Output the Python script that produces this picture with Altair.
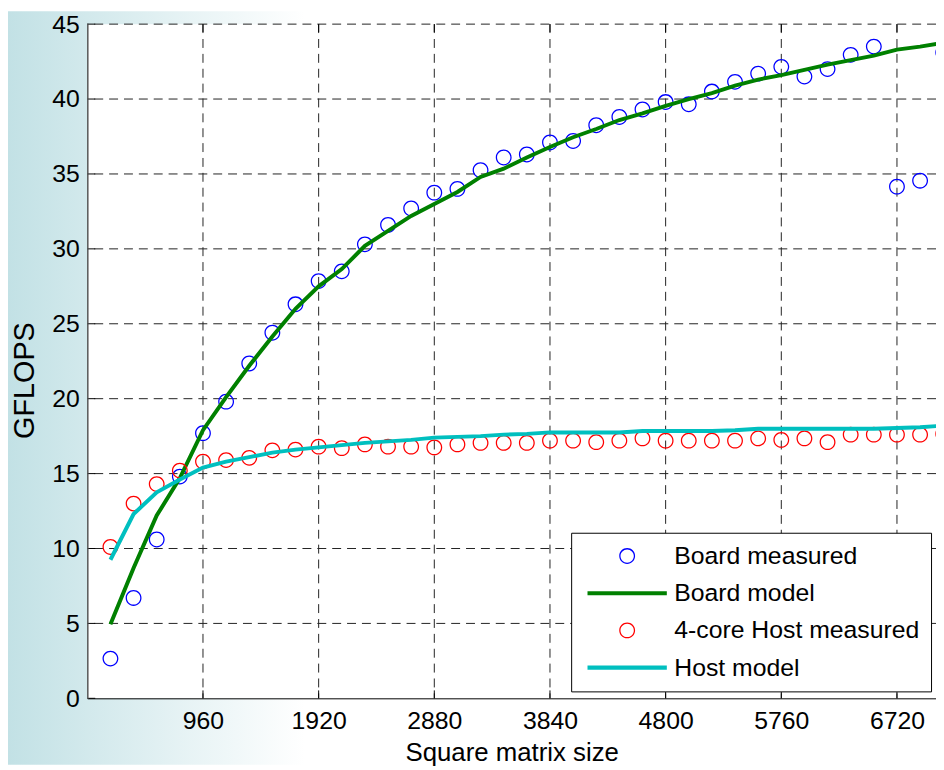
import altair as alt
import pandas as pd

# ---------------- data ----------------
sizes = [192, 384, 576, 768, 960, 1152, 1344, 1536, 1728, 1920, 2112, 2304,
         2496, 2688, 2880, 3072, 3264, 3456, 3648, 3840, 4032, 4224, 4416, 4608,
         4800, 4992, 5184, 5376, 5568, 5760, 5952, 6144, 6336, 6528, 6720, 6912, 7104]

board_measured = [2.65, 6.7, 10.6, 14.8, 17.7, 19.8, 22.35, 24.4, 26.3, 27.85, 28.5, 30.3,
                  31.6, 32.7, 33.75, 34.0, 35.25, 36.1, 36.3, 37.1, 37.2, 38.25, 38.8, 39.3,
                  39.8, 39.65, 40.5, 41.15, 41.7, 42.15, 41.5, 42.0, 42.95, 43.5, 34.15, 34.55, 43.1]

board_model = [4.95, 8.7, 12.2, 14.7, 17.9, 20.1, 22.2, 24.15, 26.0, 27.5, 28.65, 30.2,
               31.2, 32.2, 33.0, 33.8, 34.8, 35.35, 36.1, 36.8, 37.45, 38.0, 38.6, 39.05,
               39.55, 40.0, 40.4, 40.9, 41.3, 41.6, 41.95, 42.3, 42.6, 42.9, 43.3, 43.5, 43.75]

host_measured = [10.1, 13.0, 14.3, 15.2, 15.8, 15.9, 16.05, 16.55, 16.6, 16.8, 16.7, 16.95,
                 16.8, 16.8, 16.75, 16.95, 17.05, 17.05, 17.05, 17.2, 17.2, 17.1, 17.2, 17.35,
                 17.2, 17.2, 17.2, 17.2, 17.35, 17.25, 17.35, 17.1, 17.6, 17.6, 17.6, 17.6, 17.65]

host_model = [9.25, 12.3, 13.75, 14.6, 15.4, 15.8, 16.1, 16.4, 16.6, 16.75, 16.9, 17.05,
              17.15, 17.25, 17.4, 17.45, 17.5, 17.6, 17.65, 17.75, 17.75, 17.75, 17.75, 17.85,
              17.85, 17.85, 17.85, 17.9, 18.0, 18.0, 18.0, 18.0, 18.0, 18.0, 18.05, 18.1, 18.2]

series_names = ["Board measured", "Board model", "4-core Host measured", "Host model"]
series_colors = ["#0000ff", "#008000", "#ff0000", "#00bfbf"]

x_ticks = [960, 1920, 2880, 3840, 4800, 5760, 6720]
y_ticks = [0, 5, 10, 15, 20, 25, 30, 35, 40, 45]
y_grid = [5, 10, 15, 20, 25, 30, 35, 40, 45]

X_MAX = 7044
FONT = "Liberation Sans"

# ---------------- tables ----------------
def table(values, name):
    return pd.DataFrame({"size": sizes, "gflops": values, "series": name})

df_bm = table(board_measured, series_names[0])
df_bmod = table(board_model, series_names[1])
df_hm = table(host_measured, series_names[2])
df_hmod = table(host_model, series_names[3])
df_xt = pd.DataFrame({"t": x_ticks})
df_yt = pd.DataFrame({"t": y_ticks})
df_yg = pd.DataFrame({"t": y_grid})
one = pd.DataFrame({"a": [0]})

# symbol shapes: thin ring for measured points, wide bar for model lines
RING = ("M1,0A1,1 0 1,1 -1,0A1,1 0 1,1 1,0Z "
        "M0.84,0A0.84,0.84 0 1,0 -0.84,0A0.84,0.84 0 1,0 0.84,0Z")
BAR = "M-5,-0.26H5V0.26H-5Z"

xs = alt.Scale(domain=[0, X_MAX], nice=False, zero=False)
ys = alt.Scale(domain=[0, 45], nice=False, zero=False)
color_scale = alt.Scale(domain=series_names, range=series_colors)
shape_scale = alt.Scale(domain=series_names, range=[RING, BAR, RING, BAR])

x_axis = alt.Axis(values=x_ticks, format="d", title="Square matrix size", grid=False,
                  ticks=False, tickSize=0, domainColor="black", domainWidth=1,
                  labelPadding=10, labelFontSize=25, labelFont=FONT, labelColor="black",
                  labelFlush=False, labelOverlap=False, titleFont=FONT, titleFontSize=26,
                  titleFontWeight="normal", titleColor="black", titleY=63,
                  titleBaseline="alphabetic", zindex=1)
y_axis = alt.Axis(values=y_ticks, format="d", title="GFLOPS", grid=False, ticks=False,
                  tickSize=0, domainColor="#555555", domainWidth=1.5, labelPadding=8,
                  labelFontSize=25, labelFont=FONT, labelColor="black", labelFlush=False,
                  labelOverlap=False, titleFont=FONT, titleFontSize=29,
                  titleFontWeight="normal", titleColor="black", titleX=-63, titleY=359,
                  titleAngle=270, titleAlign="center", titleBaseline="middle", zindex=1)

legend = alt.Legend(title=None, orient="none", legendX=488, legendY=513,
                    fillColor="white", strokeColor="black", padding=11, rowPadding=11.5,
                    symbolSize=256, symbolStrokeWidth=0, symbolOffset=33, labelOffset=35,
                    labelFont=FONT, labelFontSize=25, labelColor="black", labelLimit=500,
                    symbolOpacity=1, zindex=1)

X = alt.X("size:Q", scale=xs, axis=x_axis)
Y = alt.Y("gflops:Q", scale=ys, axis=y_axis)

gradient = {"gradient": "linear", "x1": 0, "x2": 1, "y1": 0, "y2": 0,
            "stops": [{"offset": 0, "color": "#c2e1e5"},
                      {"offset": 0.32, "color": "#ffffff"}]}

bg = alt.Chart(one).mark_rect(color=gradient).encode(
    x=alt.value(-80), x2=alt.value(856), y=alt.value(-13), y2=alt.value(747))
plot_bg = alt.Chart(one).mark_rect(color="white").encode(
    x=alt.value(0), x2=alt.value(856), y=alt.value(0), y2=alt.value(680))

grid_x = alt.Chart(df_xt).mark_rule(color="#222222", strokeWidth=1, strokeDash=[9, 6]).encode(
    x=alt.X("t:Q", scale=xs, axis=x_axis))
grid_y = alt.Chart(df_yg).mark_rule(color="#222222", strokeWidth=1, strokeDash=[9, 6]).encode(
    y=alt.Y("t:Q", scale=ys, axis=y_axis))

tick_bottom = alt.Chart(df_xt).mark_rule(color="black", strokeWidth=1).encode(
    x=alt.X("t:Q", scale=xs), y=alt.value(680), y2=alt.value(672))
tick_top = alt.Chart(df_xt).mark_rule(color="black", strokeWidth=1).encode(
    x=alt.X("t:Q", scale=xs), y=alt.value(0), y2=alt.value(8))
tick_left = alt.Chart(df_yt).mark_rule(color="black", strokeWidth=1).encode(
    y=alt.Y("t:Q", scale=ys), x=alt.value(0), x2=alt.value(8))


def pts(df):
    return alt.Chart(df).mark_point(filled=True, size=256, opacity=1, strokeWidth=0,
                                    clip=True).encode(
        x=X, y=Y,
        color=alt.Color("series:N", scale=color_scale, legend=legend),
        shape=alt.Shape("series:N", scale=shape_scale, legend=legend))


def line(df):
    return alt.Chart(df).mark_line(strokeWidth=4, clip=True).encode(
        x=X, y=Y, color=alt.Color("series:N", scale=color_scale, legend=None))


chart = alt.layer(
    bg, plot_bg, grid_x, grid_y,
    pts(df_bm), line(df_bmod), pts(df_hm), line(df_hmod),
    tick_bottom, tick_top, tick_left,
).properties(
    width=856, height=680,
    autosize=alt.AutoSizeParams(type="none"),
    padding={"left": 80, "top": 13, "right": 0, "bottom": 67},
    background="white",
).configure_view(strokeWidth=0, fill="white")

chart.save("out.html", embed_options={"renderer": "svg", "actions": False})
